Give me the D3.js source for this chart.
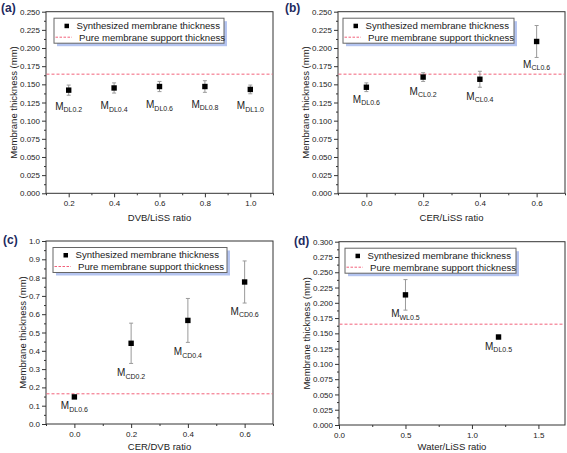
<!DOCTYPE html>
<html><head><meta charset="utf-8">
<script src="https://cdn.jsdelivr.net/npm/d3@7"></script>
<style>
html,body{margin:0;padding:0;background:#fff;}
svg{display:block;font-family:"Liberation Sans",Arial,sans-serif;}
</style></head>
<body>
<svg id="c" width="567" height="453"></svg>
<script>
// ---------- data ----------
const legendSeries = "Synthesized membrane thickness";
const legendLine = "Pure membrane support thickness";
const yTitle = "Membrane thickness (mm)";

const panelLetters = ["(a)", "(b)", "(c)", "(d)"];
const xTitles = ["DVB/LiSS ratio", "CER/LiSS ratio", "CER/DVB ratio", "Water/LiSS ratio"];
const supportThickness = [0.164, 0.164, 0.165, 0.165];

const xDomains = [[0.1, 1.1], [-0.1, 0.7], [-0.1, 0.7], [0, 1.7]];
const yDomains = [[0, 0.25], [0, 0.25], [0, 1.0], [0, 0.3]];

const xTicksA = [0.2, 0.4, 0.6, 0.8, 1.0];
const xTicksB = [0.0, 0.2, 0.4, 0.6];
const xTicksC = [0.0, 0.2, 0.4, 0.6];
const xTicksD = [0.0, 0.5, 1.0, 1.5];
const xMinorA = [0.1, 0.3, 0.5, 0.7, 0.9, 1.1];
const xMinorB = [-0.1, 0.1, 0.3, 0.5, 0.7];
const xMinorC = [-0.1, 0.1, 0.3, 0.5, 0.7];
const xMinorD = [0.25, 0.75, 1.25];
const yTicksA = [0, 0.025, 0.05, 0.075, 0.1, 0.125, 0.15, 0.175, 0.2, 0.225, 0.25];
const yTicksB = yTicksA;
const yTicksC = [0, 0.1, 0.2, 0.3, 0.4, 0.5, 0.6, 0.7, 0.8, 0.9, 1.0];
const yTicksD = [0, 0.025, 0.05, 0.075, 0.1, 0.125, 0.15, 0.175, 0.2, 0.225, 0.25, 0.275, 0.3];
const yFormats = [".3f", ".3f", ".1f", ".3f"];

// panel (a)
const xA = [0.2, 0.4, 0.6, 0.8, 1.0];
const yA = [0.142, 0.145, 0.147, 0.147, 0.143];
const errA = [0.007, 0.007, 0.007, 0.008, 0.006];
const subA = ["DL0.2", "DL0.4", "DL0.6", "DL0.8", "DL1.0"];
const labelYA = [0.115, 0.116, 0.117, 0.118, 0.116];
// panel (b)
const xB = [0.0, 0.2, 0.4, 0.6];
const yB = [0.146, 0.160, 0.157, 0.209];
const errB = [0.006, 0.006, 0.011, 0.022];
const subB = ["DL0.6", "CL0.2", "CL0.4", "CL0.6"];
const labelYB = [0.125, 0.136, 0.129, 0.173];
// panel (c)
const xC = [0.0, 0.2, 0.4, 0.6];
const yC = [0.148, 0.441, 0.566, 0.776];
const errC = [0.004, 0.110, 0.120, 0.115];
const subC = ["DL0.6", "CD0.2", "CD0.4", "CD0.6"];
const labelYC = [0.080, 0.262, 0.377, 0.596];
// panel (d)
const xD = [0.5, 1.2];
const yD = [0.213, 0.144];
const errD = [0.025, 0.003];
const subD = ["WL0.5", "DL0.5"];
const labelYD = [0.176, 0.123];

// ---------- layout ----------
const frames = [
  {l: 46, r: 273, t: 11.7, b: 193.3, legX: 8, legW: 170, letX: 1, letY: 12, titleOff: 28},
  {l: 338, r: 565, t: 11.7, b: 193.3, legX: 5, legW: 171, letX: 285, letY: 12, titleOff: 28},
  {l: 46, r: 273, t: 241, b: 424, legX: 7, legW: 174, letX: 3, letY: 244, titleOff: 25.5},
  {l: 339, r: 565, t: 241.7, b: 425, legX: 6, legW: 171, letX: 294, letY: 245, titleOff: 24.5}
];

const panels = [
  {x: xA, y: yA, err: errA, sub: subA, ly: labelYA, xt: xTicksA, xm: xMinorA, yt: yTicksA},
  {x: xB, y: yB, err: errB, sub: subB, ly: labelYB, xt: xTicksB, xm: xMinorB, yt: yTicksB},
  {x: xC, y: yC, err: errC, sub: subC, ly: labelYC, xt: xTicksC, xm: xMinorC, yt: yTicksC},
  {x: xD, y: yD, err: errD, sub: subD, ly: labelYD, xt: xTicksD, xm: xMinorD, yt: yTicksD}
];

const svg = d3.select("#c");
const axisColor = "#333";
const textColor = "#222";
const dashColor = "#f2617a";
const errColor = "#9a9a9a";

panels.forEach((p, i) => {
  const f = frames[i];
  const g = svg.append("g");
  const x = d3.scaleLinear().domain(xDomains[i]).range([f.l, f.r]);
  const y = d3.scaleLinear().domain(yDomains[i]).range([f.b, f.t]);

  const yt = p.yt;
  const yMinor = [];
  for (let k = 0; k < yt.length - 1; k++) yMinor.push((yt[k] + yt[k + 1]) / 2);

  const yAxis = g.append("g").attr("transform", `translate(${f.l},0)`)
    .call(d3.axisLeft(y).tickValues(yt).tickFormat(d3.format(yFormats[i])).tickSize(4).tickPadding(2).tickSizeOuter(0));
  g.append("g").attr("transform", `translate(${f.l},0)`)
    .call(d3.axisLeft(y).tickValues(yMinor).tickFormat("").tickSize(2).tickSizeOuter(0));
  g.append("g").attr("transform", `translate(0,${f.b})`)
    .call(d3.axisBottom(x).tickValues(p.xt).tickFormat(d3.format(".1f")).tickSize(4).tickPadding(3).tickSizeOuter(0));
  g.append("g").attr("transform", `translate(0,${f.b})`)
    .call(d3.axisBottom(x).tickValues(p.xm).tickFormat("").tickSize(2).tickSizeOuter(0));

  g.selectAll(".domain").remove();
  g.selectAll(".tick line").attr("stroke", axisColor);
  g.selectAll(".tick text").attr("fill", textColor).style("font-size", "8px")
    .style("font-family", '"Liberation Sans",Arial,sans-serif');

  // frame
  g.append("rect").attr("x", f.l).attr("y", f.t).attr("width", f.r - f.l).attr("height", f.b - f.t)
    .attr("fill", "none").attr("stroke", axisColor).attr("stroke-width", 1);

  // dashed support line
  g.append("line").attr("x1", f.l + 0.5).attr("x2", f.r - 0.5)
    .attr("y1", y(supportThickness[i])).attr("y2", y(supportThickness[i]))
    .attr("stroke", dashColor).attr("stroke-width", 1).attr("stroke-dasharray", "3,2");

  // error bars
  p.x.forEach((xv, k) => {
    const cx = x(xv), yt1 = y(p.y[k] + p.err[k]), yb1 = y(p.y[k] - p.err[k]);
    g.append("line").attr("x1", cx).attr("x2", cx).attr("y1", yt1).attr("y2", yb1).attr("stroke", errColor);
    g.append("line").attr("x1", cx - 2).attr("x2", cx + 2).attr("y1", yt1).attr("y2", yt1).attr("stroke", errColor);
    g.append("line").attr("x1", cx - 2).attr("x2", cx + 2).attr("y1", yb1).attr("y2", yb1).attr("stroke", errColor);
  });
  // markers
  g.selectAll("rect.pt").data(p.x).join("rect").attr("class", "pt")
    .attr("x", (d) => x(d) - 2.7).attr("y", (d, k) => y(p.y[k]) - 2.7)
    .attr("width", 5.4).attr("height", 5.4).attr("fill", "#000");

  // point labels
  p.x.forEach((xv, k) => {
    const t = g.append("text").attr("x", x(xv)).attr("y", y(p.ly[k]))
      .attr("text-anchor", "middle").attr("fill", textColor).style("font-size", "10px");
    t.append("tspan").text("M");
    t.append("tspan").attr("dy", 2.5).style("font-size", "7px").text(p.sub[k]);
  });

  // legend
  const lx = f.l + f.legX, ly = f.t + 6.5, lw = f.legW, lh = 25;
  g.append("rect").attr("x", lx + 3).attr("y", ly + 3).attr("width", lw).attr("height", lh)
    .attr("fill", "#b4c4f0");
  g.append("rect").attr("x", lx).attr("y", ly).attr("width", lw).attr("height", lh)
    .attr("fill", "#fff").attr("stroke", "#666").attr("stroke-width", 1);
  g.append("rect").attr("x", lx + 10.5).attr("y", ly + 5.5).attr("width", 4.5).attr("height", 4.5).attr("fill", "#000");
  g.append("text").attr("x", lx + 22.5).attr("y", ly + 10.8).attr("fill", textColor)
    .style("font-size", "9.6px").text(legendSeries);
  g.append("line").attr("x1", lx + 1.5).attr("x2", lx + 18).attr("y1", ly + 19).attr("y2", ly + 19)
    .attr("stroke", dashColor).attr("stroke-dasharray", "2.5,1.5");
  g.append("text").attr("x", lx + 25).attr("y", ly + 22.5).attr("fill", textColor)
    .style("font-size", "9.6px").text(legendLine);

  // axis titles
  g.append("text").attr("x", (f.l + f.r) / 2).attr("y", f.b + f.titleOff).attr("text-anchor", "middle")
    .attr("fill", textColor).style("font-size", "9.5px").text(xTitles[i]);
  const bb = yAxis.node().getBBox();
  const tx = f.l + bb.x - 3;
  g.append("text").attr("transform", `translate(${tx},${(f.t + f.b) / 2}) rotate(-90)`)
    .attr("text-anchor", "middle").attr("fill", textColor).style("font-size", "9.5px").text(yTitle);

  // panel letter
  g.append("text").attr("x", f.letX).attr("y", f.letY).attr("fill", "#1d2a5e")
    .style("font-size", "12px").style("font-weight", "bold").text(panelLetters[i]);
});
</script>
</body></html>
